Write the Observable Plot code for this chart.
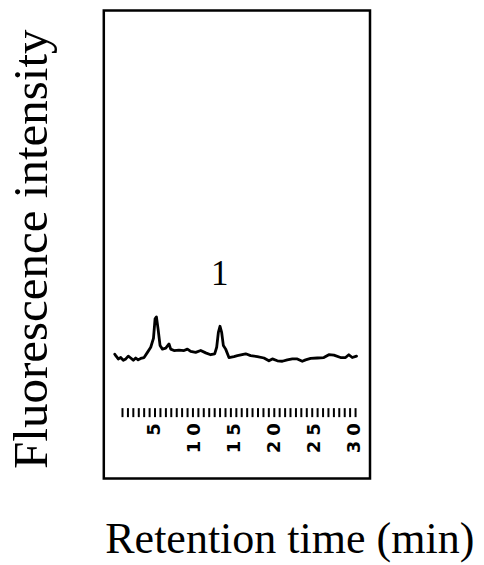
<!DOCTYPE html>
<html>
<head>
<meta charset="utf-8">
<script src="https://cdn.jsdelivr.net/npm/d3@7"></script>
<script src="https://cdn.jsdelivr.net/npm/@observablehq/plot@0.6"></script>
<style>
  html, body { margin: 0; padding: 0; background: #fff; }
  g[font-family*="DejaVu"] text { letter-spacing: 5px; }
</style>
</head>
<body>
<div id="chart"></div>
<script>
// Retention time (min)
const time = [0.19, 0.31, 0.62, 0.93, 1.25, 1.56, 1.87, 2.18, 2.5, 2.8, 3.1, 3.42, 3.84, 4.26, 4.67, 5.01, 5.21, 5.38, 5.58, 5.83, 6.13, 6.54, 6.95, 7.16, 7.57, 8.19, 8.82, 9.24, 9.65, 10.27, 10.9, 11.52, 12.14, 12.64, 12.89, 13.1, 13.3, 13.51, 13.72, 14.01, 14.42, 15.04, 15.47, 16.5, 17.12, 17.96, 18.78, 19.4, 19.83, 20.45, 21.07, 21.69, 22.32, 22.94, 23.56, 23.97, 24.6, 25.43, 26.25, 26.87, 27.5, 28.33, 28.95, 29.36, 29.79, 30.32];
// Fluorescence intensity (relative)
const intensity = [26.2, 25.9, 25.2, 25.5, 24.9, 25.2, 25.8, 25.4, 24.9, 25.4, 25.0, 25.3, 25.5, 26.6, 27.7, 29.6, 33.8, 34.2, 31.7, 28.1, 27.3, 27.5, 28.4, 27.3, 27.0, 27.1, 27.0, 27.3, 26.8, 26.6, 27.0, 26.5, 26.1, 26.3, 27.7, 30.9, 32.2, 30.9, 28.1, 27.3, 25.5, 25.7, 25.9, 26.3, 25.9, 25.7, 25.4, 24.8, 25.2, 24.8, 24.7, 25.0, 25.2, 25.2, 24.7, 25.0, 25.3, 25.4, 25.5, 26.1, 26.0, 25.5, 25.5, 26.1, 25.5, 25.8];
// Ruler ticks (min)
const tickTimes = [1.15, 1.83, 2.5, 3.18, 3.85, 4.53, 5.2, 5.88, 6.56, 7.23, 7.91, 8.58, 9.26, 9.93, 10.61, 11.28, 11.96, 12.64, 13.31, 13.99, 14.66, 15.34, 16.01, 16.69, 17.36, 18.04, 18.72, 19.39, 20.07, 20.74, 21.42, 22.09, 22.77, 23.44, 24.12, 24.8, 25.47, 26.15, 26.82, 27.5, 28.17, 28.85, 29.52, 30.2];
// Tick labels
const tickLabels = [5, 10, 15, 20, 25, 30];
// Peak annotation
const peakLabels = [{t: 13.26, v: 41.1, label: "1"}];

const series = time.map((t, i) => ({t, v: intensity[i]}));

const chart = Plot.plot({
  width: 484,
  height: 565,
  marginLeft: 103.3,
  marginRight: 114.5,
  marginTop: 10,
  marginBottom: 87,
  x: {domain: [-1.18, 32.0], axis: null},
  y: {domain: [-0.4, 99.8], axis: null},
  marks: [
    Plot.frame({stroke: "#000", strokeWidth: 2.5}),
    Plot.line(series, {x: "t", y: "v", stroke: "#000", strokeWidth: 2.8, strokeLinejoin: "round"}),
    Plot.ruleX(tickTimes, {x: d => d, y1: 12.63, y2: 14.56, stroke: "#000", strokeWidth: 2}),
    Plot.text(tickLabels, {x: d => d + 0.05, y: 12.5, text: d => String(d), rotate: -90, textAnchor: "end", fontFamily: "DejaVu Sans", fontWeight: "bold", fontSize: 18, fill: "#000"}),
    Plot.text(peakLabels, {x: "t", y: "v", text: "label", lineAnchor: "bottom", fontFamily: "Liberation Serif", fontSize: 35, fill: "#000"}),
    Plot.text(["Retention time (min)"], {x: 22, y: -16.3, text: d => d, lineAnchor: "bottom", fontFamily: "Liberation Serif", fontSize: 44, fill: "#000"}),
    Plot.text(["Fluorescence intensity"], {x: -8.2, y: 48.7, text: d => d, rotate: -90, lineAnchor: "bottom", fontFamily: "Liberation Serif", fontSize: 49, fill: "#000"})
  ]
});
document.getElementById("chart").appendChild(chart);
</script>
</body>
</html>
